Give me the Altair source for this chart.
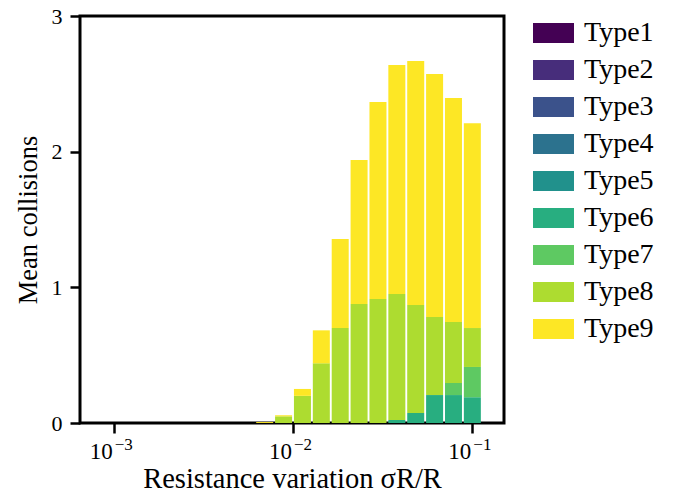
import altair as alt
import pandas as pd

sigma = [0.0069519, 0.0088587, 0.011288, 0.014384, 0.018330, 0.023357,
         0.029764, 0.037927, 0.048329, 0.061585, 0.078476, 0.1]
types = ["Type1", "Type2", "Type3", "Type4", "Type5", "Type6", "Type7", "Type8", "Type9"]
colors = ["#440154", "#472d7b", "#3b528b", "#2c728e", "#21918c",
          "#28ae80", "#5ec962", "#addc30", "#fde725"]
t1 = [0, 0, 0, 0, 0, 0, 0, 0, 0, 0, 0, 0]
t2 = [0, 0, 0, 0, 0, 0, 0, 0, 0, 0, 0, 0]
t3 = [0, 0, 0, 0, 0, 0, 0, 0, 0, 0, 0, 0]
t4 = [0, 0, 0, 0, 0, 0, 0, 0, 0, 0, 0, 0]
t5 = [0, 0, 0, 0, 0, 0, 0, 0, 0, 0, 0, 0]
t6 = [0, 0, 0, 0, 0, 0, 0, 0.022, 0.074, 0.206, 0.206, 0.19]
t7 = [0, 0, 0, 0, 0, 0, 0, 0, 0, 0, 0.089, 0.223]
t8 = [0, 0.049, 0.20, 0.44, 0.70, 0.877, 0.914, 0.929, 0.796, 0.575, 0.449, 0.287]
t9 = [0.007, 0.008, 0.051, 0.243, 0.656, 1.061, 1.452, 1.687, 1.798, 1.791, 1.651, 1.51]
series = [t1, t2, t3, t4, t5, t6, t7, t8, t9]

x_ticks = [0.001, 0.01, 0.1]
x_tick_base = ["10", "10", "10"]
x_tick_exp = ["−3", "−2", "−1"]
y_ticks = [0, 1, 2, 3]

rows = []
for i, (name, vals) in enumerate(zip(types, series)):
    for s, v in zip(sigma, vals):
        rows.append({"sigma": s, "type": name, "idx": i, "value": v})
df = pd.DataFrame(rows)
ticks_df = pd.DataFrame({"sigma": x_ticks, "base": x_tick_base, "exp": x_tick_exp})

FONT = "Liberation Serif"
xscale = alt.Scale(type="log", domain=[0.000692, 0.1408], nice=False)

bars = alt.Chart(df).mark_bar(size=17).encode(
    x=alt.X("sigma:Q", scale=xscale,
            axis=alt.Axis(values=x_ticks, labels=False,
                          title="Resistance variation σR/R",
                          titleFontSize=28.5, titleFont=FONT, titleFontWeight="normal",
                          titleBaseline="alphabetic", titleX=212, titleY=64,
                          titleAnchor="middle")),
    y=alt.Y("value:Q", stack="zero",
            scale=alt.Scale(domain=[0, 3], nice=False),
            axis=alt.Axis(values=y_ticks, format="d", title="Mean collisions",
                          labelFontSize=22, labelPadding=8, labelBaseline="middle",
                          titleFontSize=26.5, titleFont=FONT, titleFontWeight="normal",
                          titleAngle=-90, titleBaseline="alphabetic",
                          titleX=-44, titleY=203.5, titleAlign="center")),
    color=alt.Color("type:N",
                    scale=alt.Scale(domain=types, range=colors),
                    legend=alt.Legend(title=None, orient="none",
                                      legendX=459.5, legendY=3,
                                      symbolType="M-2.05,-1H2.05V1H-2.05Z",
                                      symbolSize=400, symbolStrokeWidth=0,
                                      symbolOpacity=1,
                                      labelFont=FONT, labelFontSize=28,
                                      labelColor="black", labelOffset=16.5,
                                      rowPadding=9, padding=0)),
    order=alt.Order("idx:Q", sort="ascending"),
)

tick_base = alt.Chart(ticks_df).mark_text(
    font=FONT, fontSize=23, align="right", baseline="alphabetic", dx=-1, color="black"
).encode(x=alt.X("sigma:Q", scale=xscale), y=alt.value(443), text="base:N")

tick_exp = alt.Chart(ticks_df).mark_text(
    font=FONT, fontSize=17, align="left", baseline="alphabetic", dx=1, color="black"
).encode(x=alt.X("sigma:Q", scale=xscale), y=alt.value(434), text="exp:N")

chart = alt.layer(bars, tick_base, tick_exp).properties(
    width=424, height=407,
    autosize=alt.AutoSizeParams(type="none"),
    padding={"left": 72, "top": 8, "right": 173, "bottom": 71},
).configure_view(
    stroke="black", strokeWidth=3,
).configure_axis(
    domain=False, grid=False, tickColor="black", tickWidth=2.5, tickSize=10,
    labelFont=FONT, labelColor="black", titleColor="black",
).configure_legend(
    symbolStrokeWidth=0,
)

chart.save("out.html", embed_options={"renderer": "svg", "actions": False})
